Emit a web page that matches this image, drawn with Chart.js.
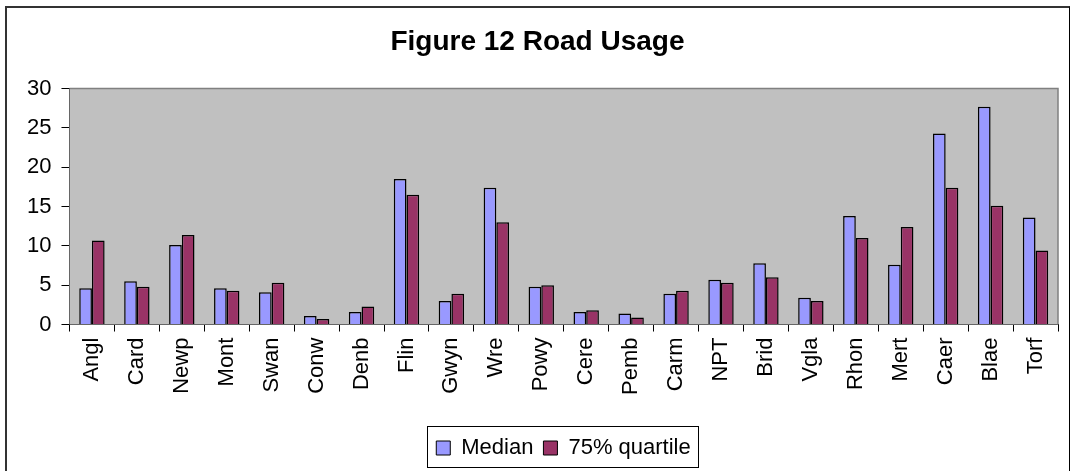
<!DOCTYPE html>
<html lang="en">
<head>
  <meta charset="UTF-8" />
  <title>Figure 12 Road Usage</title>
  <script src="https://cdn.jsdelivr.net/npm/chart.js"></script>
  <style>
    html, body {
      margin: 0;
      padding: 0;
      background: white;
      overflow: hidden;
    }

    .frame {
      position: absolute;
      left: 5px;
      top: 6px;
      width: 1065px;
      height: 480px;
      border: 2px solid #333;
      border-right: 1px solid #000;
      box-sizing: border-box;
    }

    .wrap {
      position: absolute;
      left: 0;
      top: 0;
      width: 1074px;
      height: 471px;
    }
  </style>
</head>
<body>

  <div class="frame"></div>
  <div class="wrap"><canvas id="roadChart" width="1074" height="471"></canvas></div>

  <script>
    const areas = ["Angl", "Card", "Newp", "Mont", "Swan", "Conw", "Denb", "Flin", "Gwyn", "Wre", "Powy",
                   "Cere", "Pemb", "Carm", "NPT", "Brid", "Vgla", "Rhon", "Mert", "Caer", "Blae", "Torf"];
    const median = [4.6, 5.5, 10.1, 4.6, 4.1, 1.1, 1.6, 18.5, 3.0, 17.4, 4.8,
                    1.6, 1.4, 3.9, 5.7, 7.8, 3.4, 13.8, 7.6, 24.3, 27.7, 13.6];
    const quartile75 = [10.7, 4.8, 11.4, 4.3, 5.3, 0.7, 2.3, 16.5, 3.9, 13.0, 5.0,
                        1.8, 0.9, 4.3, 5.3, 6.0, 3.0, 11.0, 12.4, 17.4, 15.1, 9.4];
    const yTicks = [0, 5, 10, 15, 20, 25, 30];

    const fontFamily = "'Liberation Sans', Arial, sans-serif";
    const legendShift = 26;

    // grey plot area with the light border on top and right
    const plotArea = {
      id: "plotArea",
      beforeDatasetsDraw(chart) {
        const { ctx, chartArea: a } = chart;
        ctx.save();
        ctx.fillStyle = "#C0C0C0";
        ctx.fillRect(a.left, a.top, a.right - a.left, a.bottom - a.top);
        ctx.strokeStyle = "#808080";
        ctx.lineWidth = 1.5;
        ctx.beginPath();
        ctx.moveTo(a.left, a.top);
        ctx.lineTo(a.right, a.top);
        ctx.lineTo(a.right, a.bottom);
        ctx.stroke();
        ctx.restore();
      }
    };

    // legend sits a little right of centre, in a box
    const legendBox = {
      id: "legendBox",
      afterLayout(chart) {
        const lg = chart.legend;
        lg.left += legendShift;
        lg.right += legendShift;
        (lg.legendHitBoxes || []).forEach(b => { b.left += legendShift; });
      },
      afterDraw(chart) {
        const boxes = chart.legend.legendHitBoxes;
        if (!boxes || !boxes.length) return;
        const first = boxes[0], last = boxes[boxes.length - 1];
        const ctx = chart.ctx;
        ctx.save();
        ctx.strokeStyle = "#000";
        ctx.lineWidth = 1;
        ctx.strokeRect(Math.round(first.left - 9) + 0.5, 426.5, Math.round(last.left + last.width - first.left + 17), 41);
        ctx.restore();
      }
    };

    new Chart(document.getElementById("roadChart"), {
      type: "bar",
      data: {
        labels: areas,
        datasets: [
          {
            label: "Median",
            data: median,
            backgroundColor: "#9999FF",
            borderColor: "#000",
            borderWidth: 1.5
          },
          {
            label: "75% quartile",
            data: quartile75,
            backgroundColor: "#993366",
            borderColor: "#000",
            borderWidth: 1.5
          }
        ]
      },
      options: {
        responsive: false,
        animation: false,
        layout: { padding: { left: 17, right: 16, top: 6, bottom: 2 } },
        datasets: { bar: { categoryPercentage: 0.565, barPercentage: 1 } },
        plugins: {
          title: {
            display: true,
            text: "Figure 12 Road Usage",
            color: "#000",
            font: { family: fontFamily, size: 28, weight: "bold" },
            padding: { top: 19, bottom: 30 }
          },
          legend: {
            position: "bottom",
            labels: {
              color: "#000",
              font: { family: fontFamily, size: 22 },
              boxWidth: 14,
              boxHeight: 14,
              padding: 10,
              generateLabels(chart) {
                return chart.data.datasets.map((ds, i) => ({
                  text: ds.label,
                  fillStyle: ds.backgroundColor,
                  strokeStyle: "#000",
                  lineWidth: 1,
                  datasetIndex: i,
                  fontColor: "#000"
                }));
              }
            }
          },
          tooltip: { enabled: false }
        },
        scales: {
          x: {
            afterFit(axis) {
              axis.height += 26;
            },
            ticks: {
              color: "#000",
              font: { family: fontFamily, size: 22 },
              minRotation: 90,
              maxRotation: 90,
              padding: 6,
              autoSkip: false
            },
            grid: {
              offset: true,
              drawOnChartArea: false,
              color: "#000",
              tickLength: 7
            },
            border: { color: "#000", width: 1 }
          },
          y: {
            min: 0,
            max: 30,
            afterBuildTicks(axis) {
              axis.ticks = yTicks.map(v => ({ value: v }));
            },
            ticks: {
              color: "#000",
              font: { family: fontFamily, size: 22 },
              padding: 10
            },
            grid: {
              drawOnChartArea: false,
              color: "#000",
              tickLength: 8
            },
            border: { color: "#000", width: 1 }
          }
        }
      },
      plugins: [plotArea, legendBox]
    });
  </script>

</body>
</html>
